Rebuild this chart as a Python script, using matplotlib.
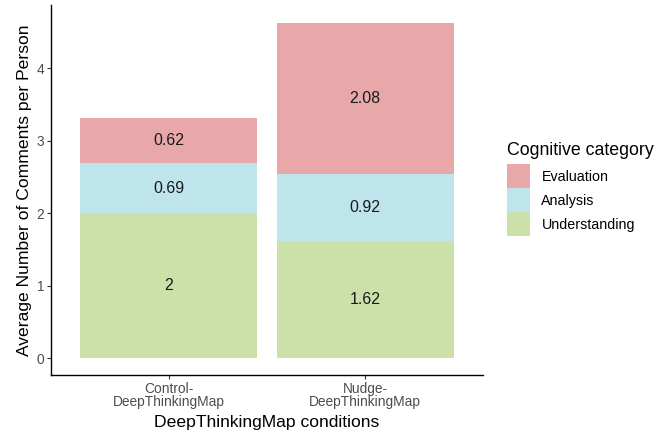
import numpy as np
import matplotlib.pyplot as plt
from matplotlib.patches import Patch

plt.rcParams['font.family'] = ['Liberation Sans', 'DejaVu Sans']

conditions = ["Control-\nDeepThinkingMap", "Nudge-\nDeepThinkingMap"]
categories = ["Understanding", "Analysis", "Evaluation"]
understanding = [2.0, 1.62]
analysis = [0.69, 0.92]
evaluation = [0.62, 2.08]
labels = [["2", "1.62"], ["0.69", "0.92"], ["0.62", "2.08"]]
colors = {"Evaluation": "#E8A8AA", "Analysis": "#BEE5EC", "Understanding": "#CCE0AA"}

fig = plt.figure(figsize=(6.65, 4.33), dpi=100)
ax = fig.add_axes([0.0767, 0.134, 0.6496, 0.854])

x = np.arange(1, len(conditions) + 1)
bottom = np.zeros(len(conditions))
for cat, vals, labs in zip(categories, [understanding, analysis, evaluation], labels):
    vals = np.array(vals)
    ax.bar(x, vals, bottom=bottom, width=0.9, color=colors[cat], linewidth=0)
    for xi, b, v, t in zip(x, bottom, vals, labs):
        ax.text(xi, b + v / 2, t, ha="center", va="center", fontsize=11.5, color="#1A1A1A")
    bottom = bottom + vals

ax.set_xlim(0.4, 2.6)
ax.set_ylim(-0.234, 4.87)
ax.set_xticks(x)
ax.set_xticklabels(conditions, fontsize=9.9, color="#4D4D4D", linespacing=0.95)
ax.set_yticks([0, 1, 2, 3, 4])
ax.set_yticklabels(["0", "1", "2", "3", "4"], fontsize=9.9, color="#4D4D4D")
ax.tick_params(axis="both", length=3, width=0.8, color="#333333", pad=2)
for s in ["top", "right"]:
    ax.spines[s].set_visible(False)
for s in ["left", "bottom"]:
    ax.spines[s].set_linewidth(1.0)
    ax.spines[s].set_color("black")
ax.set_xlabel("DeepThinkingMap conditions", fontsize=12.6, labelpad=4)
ax.set_ylabel("Average Number of Comments per Person", fontsize=12.6, labelpad=3)

handles = [Patch(facecolor=colors[c], edgecolor="none", label=c) for c in ["Evaluation", "Analysis", "Understanding"]]
leg = fig.legend(handles=handles, title="Cognitive category", loc="upper left",
                 bbox_to_anchor=(0.754, 0.686), frameon=False, fontsize=10.3,
                 title_fontsize=12.8, handlelength=1.6, handleheight=2.2,
                 labelspacing=0.0, handletextpad=0.8, borderaxespad=0)
leg._legend_box.align = "left"
leg._legend_box.sep = 4

fig.savefig("out.png", dpi=100)
